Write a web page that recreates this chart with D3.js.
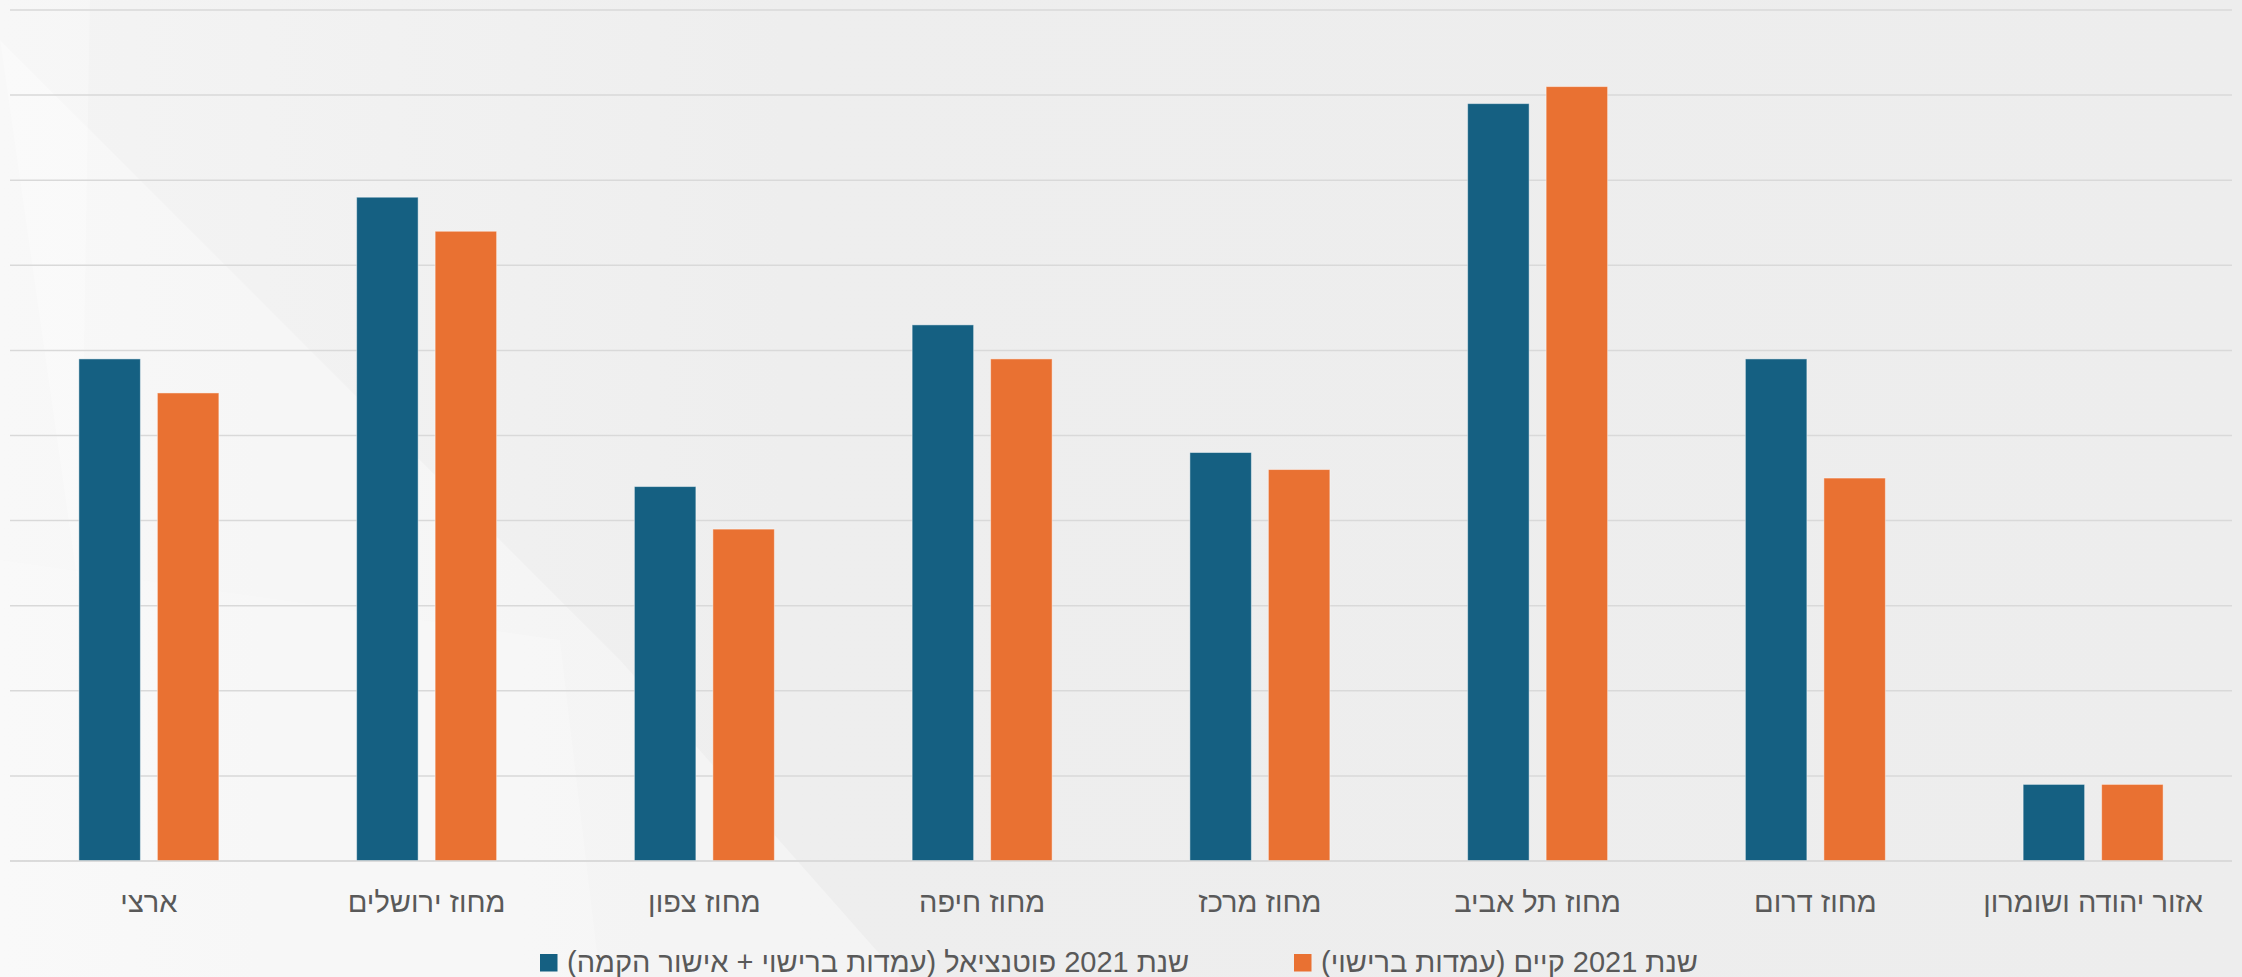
<!DOCTYPE html>
<html><head><meta charset="utf-8">
<script src="https://cdn.jsdelivr.net/npm/d3@7"></script>
<style>
html,body{margin:0;padding:0;background:#eeeeee;overflow:hidden;}
text{font-family:"Liberation Sans",Arial,sans-serif;}
</style></head>
<body>
<svg id="chart" width="2242" height="977"></svg>
<script>
const categories = ["ארצי","מחוז ירושלים","מחוז צפון","מחוז חיפה","מחוז מרכז","מחוז תל אביב","מחוז דרום","אזור יהודה ושומרון"];
const seriesNames = ["שנת 2021 פוטנציאל (עמדות ברישוי + אישור הקמה)","שנת 2021 קיים (עמדות ברישוי)"];
const potential = [5.9, 7.8, 4.4, 6.3, 4.8, 8.9, 5.9, 0.9];
const existing  = [5.5, 7.4, 3.9, 5.9, 4.6, 9.1, 4.5, 0.9];
const yTicks = [0,1,2,3,4,5,6,7,8,9,10];
const colors = ["#156082","#E97132"];

const svg = d3.select("#chart");
const W = 2242, H = 977;

// background
const defs = svg.append("defs");
const lg = defs.append("linearGradient").attr("id","bg").attr("x1","0").attr("y1","0").attr("x2","1").attr("y2","0");
lg.append("stop").attr("offset","0").attr("stop-color","#f4f4f4");
lg.append("stop").attr("offset","0.35").attr("stop-color","#eeeeee");
lg.append("stop").attr("offset","1").attr("stop-color","#ededed");
svg.append("rect").attr("width",W).attr("height",H).attr("fill","url(#bg)");
// decorative light shapes
svg.append("polygon").attr("points","0,40 0,977 900,977 620,660").attr("fill","#ffffff").attr("opacity",0.35);
svg.append("polygon").attr("points","90,0 0,0 0,40 80,600").attr("fill","#ffffff").attr("opacity",0.25);
svg.append("polygon").attr("points","0,560 0,977 600,977 560,640").attr("fill","#ffffff").attr("opacity",0.2);

const plotL = 10, plotR = 2232, plotT = 10, plotB = 861;

const x0 = d3.scaleBand().domain(categories).range([plotL, plotR]).paddingInner(0.496).paddingOuter(0.248);
const x1 = d3.scaleBand().domain([0,1]).range([0, x0.bandwidth()]).paddingInner(0.2166).paddingOuter(0);
const y = d3.scaleLinear().domain([0,10]).range([plotB, plotT]);

// gridlines
svg.append("g").selectAll("line").data(yTicks).join("line")
  .attr("x1", plotL).attr("x2", plotR)
  .attr("y1", d => y(d)).attr("y2", d => y(d))
  .attr("stroke", "#d9d9d9").attr("stroke-width", 1.5);

const data = categories.map((c,i) => ({cat:c, vals:[potential[i], existing[i]]}));

const groups = svg.append("g").selectAll("g").data(data).join("g")
  .attr("transform", d => `translate(${x0(d.cat)},0)`);
groups.selectAll("rect").data(d => d.vals.map((v,k)=>({k,v}))).join("rect")
  .attr("x", d => x1(d.k)).attr("width", x1.bandwidth())
  .attr("y", d => y(d.v)).attr("height", d => y(0) - y(d.v))
  .attr("fill", d => colors[d.k])
  .attr("stroke", "#ffffff").attr("stroke-opacity", 0.45).attr("stroke-width", 1);

// baseline
svg.append("line").attr("x1",plotL).attr("x2",plotR).attr("y1",y(0)).attr("y2",y(0))
  .attr("stroke","#d9d9d9").attr("stroke-width",1.5);

// category labels
svg.append("g").selectAll("text").data(categories).join("text")
  .attr("x", d => x0(d) + x0.bandwidth()/2)
  .attr("y", 912)
  .attr("text-anchor","middle")
  .attr("direction","rtl")
  .attr("font-size", 29)
  .attr("fill","#595959")
  .text(d => d);

// legend
const legendItems = [
  {name: seriesNames[0], color: colors[0], sx: 540},
  {name: seriesNames[1], color: colors[1], sx: 1294}
];
const lgG = svg.append("g");
legendItems.forEach(it => {
  lgG.append("rect").attr("x", it.sx).attr("y", 954).attr("width", 17.5).attr("height", 17.5).attr("fill", it.color);
  lgG.append("text").attr("x", it.sx + 27).attr("y", 972)
    .attr("direction","rtl").attr("text-anchor","end")
    .attr("font-size", 29).attr("fill","#595959").text(it.name);
});
</script>
</body></html>
